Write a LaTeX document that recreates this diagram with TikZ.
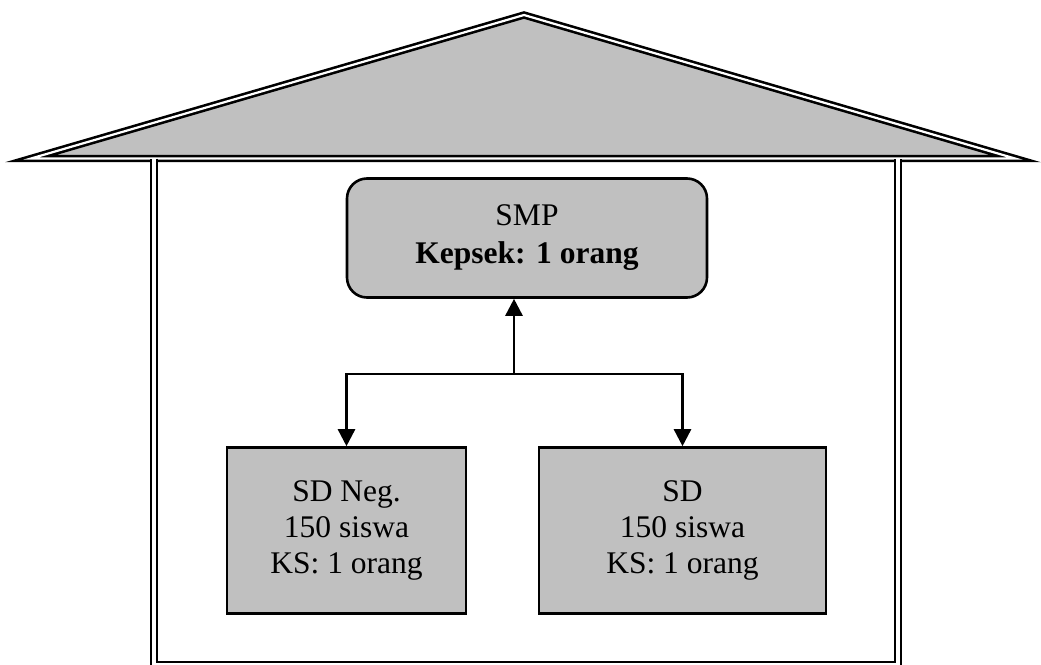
\documentclass[tikz,border=0pt]{standalone}
\usepackage{fontspec}
\setmainfont{Liberation Serif}
\usetikzlibrary{arrows.meta}
\definecolor{boxgray}{HTML}{C0C0C0}
\tikzset{
  wall/.style={draw=black, line width=2.5pt, double=white, double distance=3.5pt, line join=miter},
  roof/.style={draw=black, line width=2.6pt, double=white, double distance=2.2pt, line join=miter, fill=boxgray},
  unitbox/.style={draw=black, line width=2.6pt, fill=boxgray, inner sep=0pt, align=center,
                  font=\fontsize{31.5}{36}\selectfont},
  link/.style={draw=black, line width=2.6pt, -{Triangle[length=17pt, width=17pt]}}
}
\begin{document}
\begin{tikzpicture}[x=1pt, y=-1pt]
\useasboundingbox (0,0) rectangle (1041,664);

% roof
\path[roof] (31,158.5) -- (524,15) -- (1015,158.5) -- cycle;

% walls
\draw[wall] (154,158.5) -- (154,665) -- (898,665) -- (898,158.5);

% school units
\node[unitbox, rounded corners=20pt, minimum width=360pt, minimum height=119pt,
      font=\fontsize{31.5}{38}\selectfont] (smp) at (527,238) {SMP\\\textbf{Kepsek: 1 orang}};
\node[unitbox, minimum width=239pt, minimum height=166pt] (sdneg) at (346.5,530.5)
      {SD Neg.\\150 siswa\\KS: 1 orang};
\node[unitbox, minimum width=287pt, minimum height=166pt] (sd) at (682.5,530.5)
      {SD\\150 siswa\\KS: 1 orang};

% connectors
\coordinate (j) at (514,374);
\draw[link] (j) -- (j |- smp.south);
\draw[link] (j) -| (sdneg.north);
\draw[link] (j) -| (sd.north);
\end{tikzpicture}
\end{document}
